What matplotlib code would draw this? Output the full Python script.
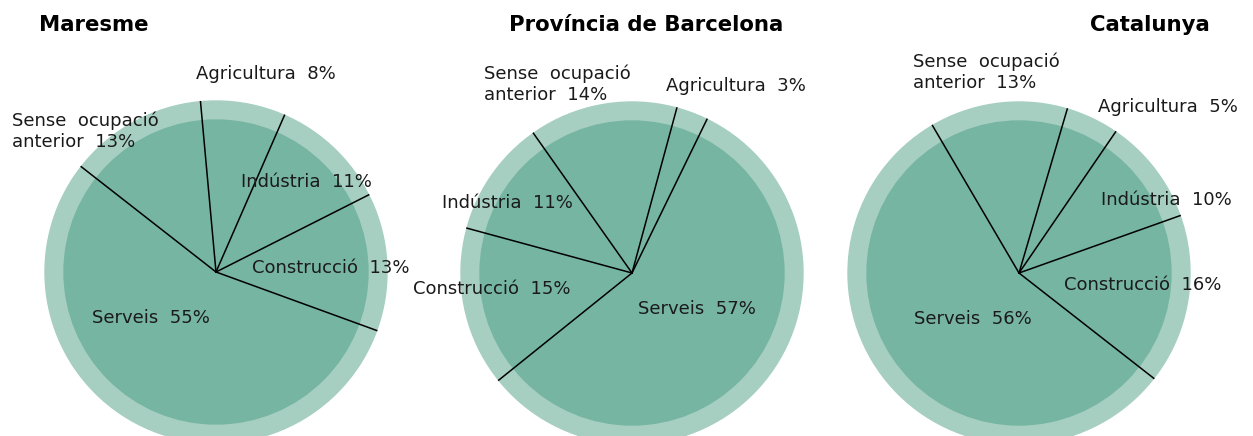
import numpy as np
import matplotlib.pyplot as plt
from matplotlib.patches import Circle

regions = ['Maresme', 'Província de Barcelona', 'Catalunya']
sectors = ['Agricultura', 'Indústria', 'Construcció', 'Serveis', 'Sense  ocupació\nanterior']
maresme = [8, 11, 13, 55, 13]
barcelona = [3, 11, 15, 57, 14]
catalunya = [5, 10, 16, 56, 13]
all_values = [maresme, barcelona, catalunya]

# order of the sectors round each pie (counter-clockwise) and start angle
order = [[2, 1, 0, 4, 3], [0, 4, 1, 2, 3], [2, 1, 0, 4, 3]]
start = [-20, 64, -38]

W, H = 1253, 436
centers = [(216, 272), (632, 273), (1019, 273)]
R_OUT, R_IN = 171, 152
light = '#a6cfc2'
dark = '#76b5a2'

# label positions in pixels (left x, centre y), same order as sectors
label_pos = [
    [(196, 74), (241, 182), (252, 268), (92, 318), (12, 131)],
    [(666, 86), (442, 203), (413, 289), (638, 309), (484, 84)],
    [(1098, 107), (1101, 200), (1064, 285), (914, 319), (913, 72)],
]
title_pos = [(39, 25), (509, 25), (1090, 25)]

fig = plt.figure(figsize=(12.53, 4.36), dpi=100)
ax = fig.add_axes([0, 0, 1, 1])

for k in range(3):
    cx, cy = centers[k]
    cy = H - cy
    vals = [all_values[k][i] for i in order[k]]
    wedges, _ = ax.pie(vals, startangle=start[k], counterclock=True,
                       center=(cx, cy), radius=R_OUT,
                       wedgeprops=dict(facecolor='none', linewidth=0))
    ax.add_patch(Circle((cx, cy), R_OUT, color=light, zorder=0))
    ax.add_patch(Circle((cx, cy), R_IN, color=dark, zorder=0.5))
    for w in wedges:
        t = np.deg2rad(w.theta1)
        ax.plot([cx, cx + R_OUT * np.cos(t)], [cy, cy + R_OUT * np.sin(t)],
                color='black', lw=1.1, zorder=2)

    for i, name in enumerate(sectors):
        x, y = label_pos[k][i]
        ax.text(x, H - y, f'{name}  {all_values[k][i]}%', fontsize=13,
                ha='left', va='center', color='#1a1a1a', linespacing=1.22, zorder=3)

    tx, ty = title_pos[k]
    ax.text(tx, H - ty, regions[k], fontsize=15.3, fontweight='bold',
            ha='left', va='center', color='black')

ax.set_xlim(0, W)
ax.set_ylim(0, H)
ax.set_aspect('equal')
ax.axis('off')

plt.savefig('out.png', dpi=100, facecolor='white')
